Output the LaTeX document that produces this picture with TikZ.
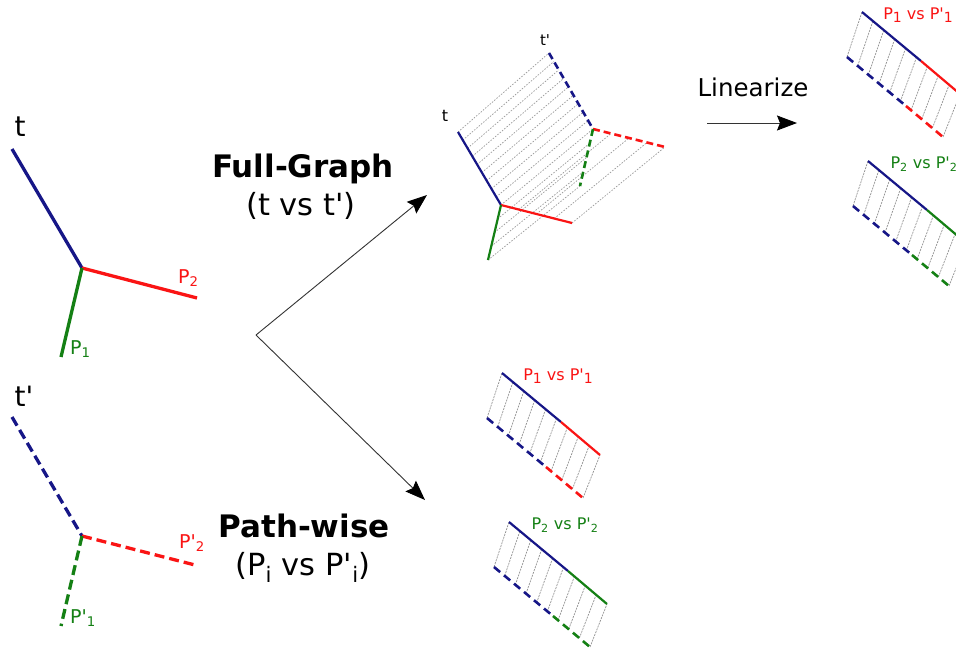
\documentclass[tikz,border=0pt]{standalone}
\usepackage{fontspec}
\setmainfont{DejaVu Sans}[Ligatures=TeXOff]
\usetikzlibrary{calc,arrows.meta}
\definecolor{navy}{RGB}{22,22,135}
\definecolor{pred}{RGB}{250,20,20}
\definecolor{pgreen}{RGB}{20,128,20}
\tikzset{
  bigS/.style={line width=3.3pt},
  bigD/.style={line width=3.3pt,dash pattern=on 10pt off 5pt},
  midS/.style={line width=2.2pt},
  midD/.style={line width=2.6pt,dash pattern=on 7pt off 4pt},
  panS/.style={line width=2.2pt},
  panD/.style={line width=2.6pt,dash pattern=on 8pt off 5pt},
  align/.style={draw=gray!85,line width=0.7pt,dash pattern=on 2pt off 1pt},
  dotl/.style={draw=gray!80,line width=0.7pt,dash pattern=on 1.5pt off 1.5pt},
  flow/.style={draw=black!80,line width=0.9pt,-{Stealth[length=20pt,width=15pt,inset=3pt,fill=black,color=black]}},
  lbl/.style={inner sep=0pt,font=\fontsize{19}{21}\selectfont},
  biglbl/.style={inner sep=0pt,font=\fontsize{28}{32}\selectfont},
  title/.style={inner sep=0pt,font=\fontsize{31}{35}\selectfont\bfseries},
  subtitle/.style={inner sep=0pt,font=\fontsize{30.5}{34}\selectfont},
  panlbl/.style={inner sep=0pt,font=\fontsize{16}{18}\selectfont},
}
\newcommand\mkpanel[5]{% prefix, shift x, shift y, colour, label
\begin{scope}[shift={(#2,#3)}]
  \coordinate (#1s0) at (0,0);
  \coordinate (#1sm) at (59,49);
  \coordinate (#1s1) at (98,82);
  \coordinate (#1d0) at (-15,45);
  \coordinate (#1dm) at (44,94);
  \coordinate (#1d1) at (81,125);
  \foreach \i in {0,...,9}{
    \draw[align] ($(#1d0)!\i/9!(#1d1)$) -- ($(#1s0)!\i/9!(#1s1)$);
  }
  \draw[panS,navy] (#1s0) -- (#1sm);
  \draw[panS,#4] (#1sm) -- (#1s1);
  \draw[panD,navy] (#1d0) -- (#1dm);
  \draw[panD,#4] (#1dm) -- (#1d1);
  \node[panlbl,text=#4] (#1lab) at (56,3) {#5};
\end{scope}}
\begin{document}
\begin{tikzpicture}[x=1pt,y=-1pt]
\clip (0,0) rectangle (956,649);
\fill[white] (0,0) rectangle (956,649);
% left top graph
\coordinate (tA) at (12,149);
\coordinate (tJ) at (82,268);
\coordinate (tP2) at (197,298);
\coordinate (tP1) at (61,357);
\draw[bigS,navy] (tA) -- (tJ);
\draw[bigS,pred] (tJ) -- (tP2);
\draw[bigS,pgreen] (tJ) -- (tP1);
\node[biglbl] (lt) at (20,127) {t};
\node[lbl,text=pred,anchor=base west] (lp2) at (178,283) {P\textsubscript{2}};
\node[lbl,text=pgreen,anchor=base west] (lp1) at (70,354) {P\textsubscript{1}};
% left bottom graph
\coordinate (uA) at (12,417);
\coordinate (uJ) at (82,536);
\coordinate (uP2) at (195,565);
\coordinate (uP1) at (61,626);
\draw[bigD,navy] (uA) -- (uJ);
\draw[bigD,pred] (uJ) -- (uP2);
\draw[bigD,pgreen] (uJ) -- (uP1);
\node[biglbl] (lu) at (24,396) {t'};
\node[lbl,text=pred,anchor=base west] (lq2) at (179,548) {P'\textsubscript{2}};
\node[lbl,text=pgreen,anchor=base west] (lq1) at (70,623) {P'\textsubscript{1}};
% titles and arrows
\node[title,anchor=base] (full) at (303,177) {Full-Graph};
\node[subtitle,anchor=base] (fullsub) at (301,215) {(t vs t')};
\node[title,anchor=base] (path) at (304,537) {Path-wise};
\node[subtitle,anchor=base] (pathsub) at (303,575) {(P\textsubscript{i} vs P'\textsubscript{i})};
\coordinate (apex) at (256,335);
\coordinate (upTip) at (427,195);
\coordinate (dnTip) at (425,500);
\draw[flow] (apex) -- (upTip);
\draw[flow] (apex) -- (dnTip);
\node[subtitle,font=\fontsize{24.5}{27}\selectfont,anchor=base] (lin) at (753,96) {Linearize};
\coordinate (linA) at (707,123);
\coordinate (linB) at (797,123);
\draw[flow] (linA) -- (linB);
% middle full graph
\coordinate (mA) at (458,132);
\coordinate (mJ) at (501,205);
\coordinate (mR) at (572,223);
\coordinate (mG) at (488,260);
\coordinate (nA) at (549,53);
\coordinate (nJ) at (593,129);
\coordinate (nR) at (665,147);
\coordinate (nG) at (580,186);
\foreach \i in {0,...,9}{
  \draw[dotl] ($(mA)!\i/9!(mJ)$) -- ($(nA)!\i/9!(nJ)$);
}
\foreach \i in {1,...,4}{
  \draw[dotl] ($(mJ)!\i/4!(mR)$) -- ($(nJ)!\i/4!(nR)$);
  \draw[dotl] ($(mJ)!\i/4!(mG)$) -- ($(nJ)!\i/4!(nG)$);
}
\draw[midS,navy] (mA) -- (mJ);
\draw[midS,pred] (mJ) -- (mR);
\draw[midS,pgreen] (mJ) -- (mG);
\draw[midD,navy] (nA) -- (nJ);
\draw[midD,pred] (nJ) -- (nR);
\draw[midD,pgreen] (nJ) -- (nG);
\node[inner sep=0pt,font=\fontsize{16}{18}\selectfont] (mt) at (445,116) {t};
\node[inner sep=0pt,font=\fontsize{15}{18}\selectfont] (nt) at (545,40) {t'};
% panels
\mkpanel{pa}{502}{373}{pred}{P{\raisebox{-2.5pt}{\fontsize{14}{14}\selectfont 1}} vs P'{\raisebox{-2.5pt}{\fontsize{14}{14}\selectfont 1}}}
\mkpanel{pb}{509}{522}{pgreen}{P\textsubscript{2} vs P'\textsubscript{2}}
\mkpanel{pc}{862}{12}{pred}{P{\raisebox{-2.5pt}{\fontsize{14}{14}\selectfont 1}} vs P'{\raisebox{-2.5pt}{\fontsize{14}{14}\selectfont 1}}}
\mkpanel{pd}{868}{161}{pgreen}{P\textsubscript{2} vs P'\textsubscript{2}}
\end{tikzpicture}
\end{document}
